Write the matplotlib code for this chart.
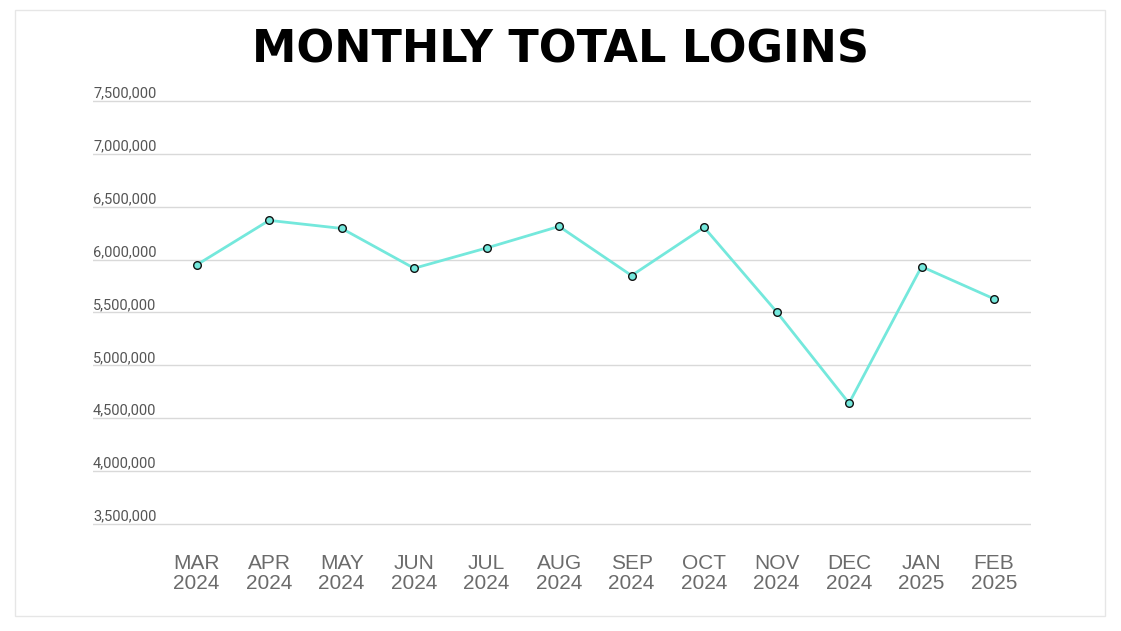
import matplotlib.pyplot as plt
from matplotlib.patches import Rectangle
from matplotlib.transforms import blended_transform_factory, offset_copy

months = ["MAR\n2024", "APR\n2024", "MAY\n2024", "JUN\n2024", "JUL\n2024", "AUG\n2024",
          "SEP\n2024", "OCT\n2024", "NOV\n2024", "DEC\n2024", "JAN\n2025", "FEB\n2025"]
logins = [5950000, 6371000, 6295000, 5918000, 6110000, 6314000,
          5849000, 6305000, 5507000, 4642000, 5934000, 5629000]
yticks = [3500000, 4000000, 4500000, 5000000, 5500000, 6000000, 6500000, 7000000, 7500000]

W, H = 1121, 631
fig = plt.figure(figsize=(W / 100, H / 100), dpi=100)
fig.patch.set_facecolor("white")

# light frame round the whole chart
fig.patches.append(Rectangle((15 / W, 1 - 616 / H), 1090 / W, 606 / H,
                             transform=fig.transFigure, fill=False,
                             edgecolor="#e6e6e6", linewidth=1))

# axes box: left 93px, right 1031px, top 90px, bottom 530px
ax = fig.add_axes([93 / W, 1 - 530 / H, (1031 - 93) / W, (530 - 90) / H])
ax.set_xlim(-1.43, 11.51)
ax.set_ylim(3443000, 7604000)
for s in ax.spines.values():
    s.set_visible(False)
ax.set_xticks([])
ax.set_yticks([])

trans = blended_transform_factory(ax.transAxes, ax.transData)
trans_up = offset_copy(trans, fig=fig, y=0.5, units="dots")
for v in yticks:
    ax.axhline(v, color="#d9d9d9", linewidth=1, zorder=1)
    ax.text(0, v, f"{v:,}", transform=trans_up, ha="left", va="bottom",
            fontsize=10.5, color="#555555", family="Roboto")

x = list(range(len(months)))
ax.plot(x, logins, color="#74e8dc", linewidth=2, zorder=2)
ax.plot(x, logins, linestyle="none", marker="o", markersize=5.5,
        markerfacecolor="#74e8dc", markeredgecolor="#111111",
        markeredgewidth=1, zorder=3, clip_on=False)

# two-line month labels under the plot
lab_trans = blended_transform_factory(ax.transData, fig.transFigure)
for i, lab in enumerate(months):
    ax.text(i, 1 - 554 / H, lab, transform=lab_trans, ha="center", va="top",
            fontsize=15, color="#6b6b6b", family="Liberation Sans",
            linespacing=1.05)

fig.text(561 / W, 1 - 50 / H, "MONTHLY TOTAL LOGINS", ha="center", va="center",
         fontsize=32, fontweight="heavy", color="black", family="DejaVu Sans")

fig.savefig("out.png", dpi=100)
